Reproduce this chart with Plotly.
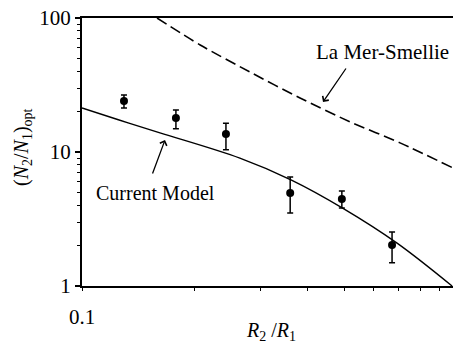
import plotly.graph_objects as go
import numpy as np

# Current Model curve
model_x = [0.1, 0.125, 0.1614, 0.2636, 0.363, 0.4966, 0.692, 0.97]
model_y = [21.3, 17.4, 13.9, 9.0, 6.15, 3.8, 2.09, 1.0]

# La Mer-Smellie curve
lms_x = [0.1585, 0.2066, 0.2805, 0.3814, 0.5183, 0.7047, 0.9755]
lms_y = [100, 62.9, 39.5, 25.3, 16.8, 11.7, 7.6]

# measured points with asymmetric error bars
pts_x = [0.1294, 0.178, 0.242, 0.359, 0.493, 0.671]
pts_y = [24.0, 17.9, 13.6, 4.94, 4.46, 2.02]
pts_hi = [26.6, 20.6, 16.4, 6.5, 5.12, 2.53]
pts_lo = [21.3, 14.9, 10.4, 3.5, 3.82, 1.49]

y_major = [1, 10, 100]
y_major_text = ["1", "10", "100"]
y_minor = [2, 3, 4, 5, 6, 7, 8, 9, 20, 30, 40, 50, 60, 70, 80, 90]
x_major = [0.1]
x_major_text = ["0.1"]
x_minor = [0.2, 0.3, 0.4, 0.5, 0.6, 0.7, 0.8, 0.9]

FONT = "Liberation Serif"
W, H = 453, 344
L, R, T, B = 82, 0, 18, 58

fig = go.Figure()
fig.add_trace(go.Scatter(x=model_x, y=model_y, mode="lines",
                         line=dict(color="black", width=1.4, shape="spline", smoothing=1.0)))
fig.add_trace(go.Scatter(x=lms_x, y=lms_y, mode="lines",
                         line=dict(color="black", width=1.6, dash="11px,5px", shape="spline", smoothing=0.8)))
fig.add_trace(go.Scatter(
    x=pts_x, y=pts_y, mode="markers",
    marker=dict(color="black", size=8, symbol="circle"),
    error_y=dict(type="data", symmetric=False,
                 array=[h - y for h, y in zip(pts_hi, pts_y)],
                 arrayminus=[y - l for l, y in zip(pts_lo, pts_y)],
                 color="black", thickness=1.5, width=3)))

pw = W - L - R
ph = H - T - B
def px(xp):
    return (xp - L) / pw
def py(yp):
    return (H - B - yp) / ph

ann = []
txt = dict(showarrow=False, xanchor="center", yanchor="middle", xref="paper", yref="paper")
ann.append(dict(x=px(382), y=py(52), text="La Mer-Smellie",
                font=dict(family=FONT, size=21, color="black"), **txt))
ann.append(dict(x=px(155), y=py(193), text="Current Model",
                font=dict(family=FONT, size=20, color="black"), **txt))
# arrows
ann.append(dict(xref="paper", yref="paper", x=px(323), y=py(102), text="",
                showarrow=True, arrowhead=4, arrowsize=1.1, arrowwidth=1.3, arrowcolor="black",
                ax=24, ay=-35))
ann.append(dict(xref="paper", yref="paper", x=px(165), y=py(140), text="",
                showarrow=True, arrowhead=4, arrowsize=1.1, arrowwidth=1.3, arrowcolor="black",
                ax=-13, ay=35))
# axis titles
ann.append(dict(x=px(271), y=py(331),
                text="<i>R</i><sub>2</sub> /<i>R</i><sub>1</sub>",
                font=dict(family=FONT, size=20, color="black"), **txt))
ann.append(dict(x=px(22), y=py(147),
                text="(<i>N</i><sub>2</sub>/<i>N</i><sub>1</sub>)<sub>opt</sub>", textangle=-90,
                font=dict(family=FONT, size=20, color="black"), **txt))

fig.update_layout(
    width=W, height=H,
    margin=dict(l=L, r=R, t=T, b=B),
    paper_bgcolor="white", plot_bgcolor="white",
    showlegend=False,
    font=dict(family=FONT, size=20, color="black"),
    annotations=ann,
    xaxis=dict(type="log", range=[-1, np.log10(0.9755)],
               showline=True, linecolor="black", linewidth=2, mirror=True,
               showgrid=False, zeroline=False,
               tickmode="array", tickvals=x_major, ticktext=x_major_text,
               ticks="outside", ticklen=3, tickwidth=1, tickcolor="black",
               ticklabelstandoff=8,
               minor=dict(tickmode="array", tickvals=x_minor, ticks="outside", ticklen=3,
                          tickwidth=1, tickcolor="black", showgrid=False),
               tickfont=dict(family=FONT, size=21, color="black")),
    yaxis=dict(type="log", range=[0, 2],
               showline=True, linecolor="black", linewidth=2, mirror=False,
               showgrid=False, zeroline=False,
               tickmode="array", tickvals=y_major, ticktext=y_major_text,
               ticks="outside", ticklen=5, tickwidth=1.5, tickcolor="black",
               minor=dict(tickmode="array", tickvals=y_minor, ticks="outside", ticklen=3,
                          tickwidth=1, tickcolor="black", showgrid=False),
               tickfont=dict(family=FONT, size=21, color="black")),
)

fig.write_html("out.html", config={"displayModeBar": False},
               post_script="document.body.style.margin='0px';document.body.style.overflow='hidden';")
